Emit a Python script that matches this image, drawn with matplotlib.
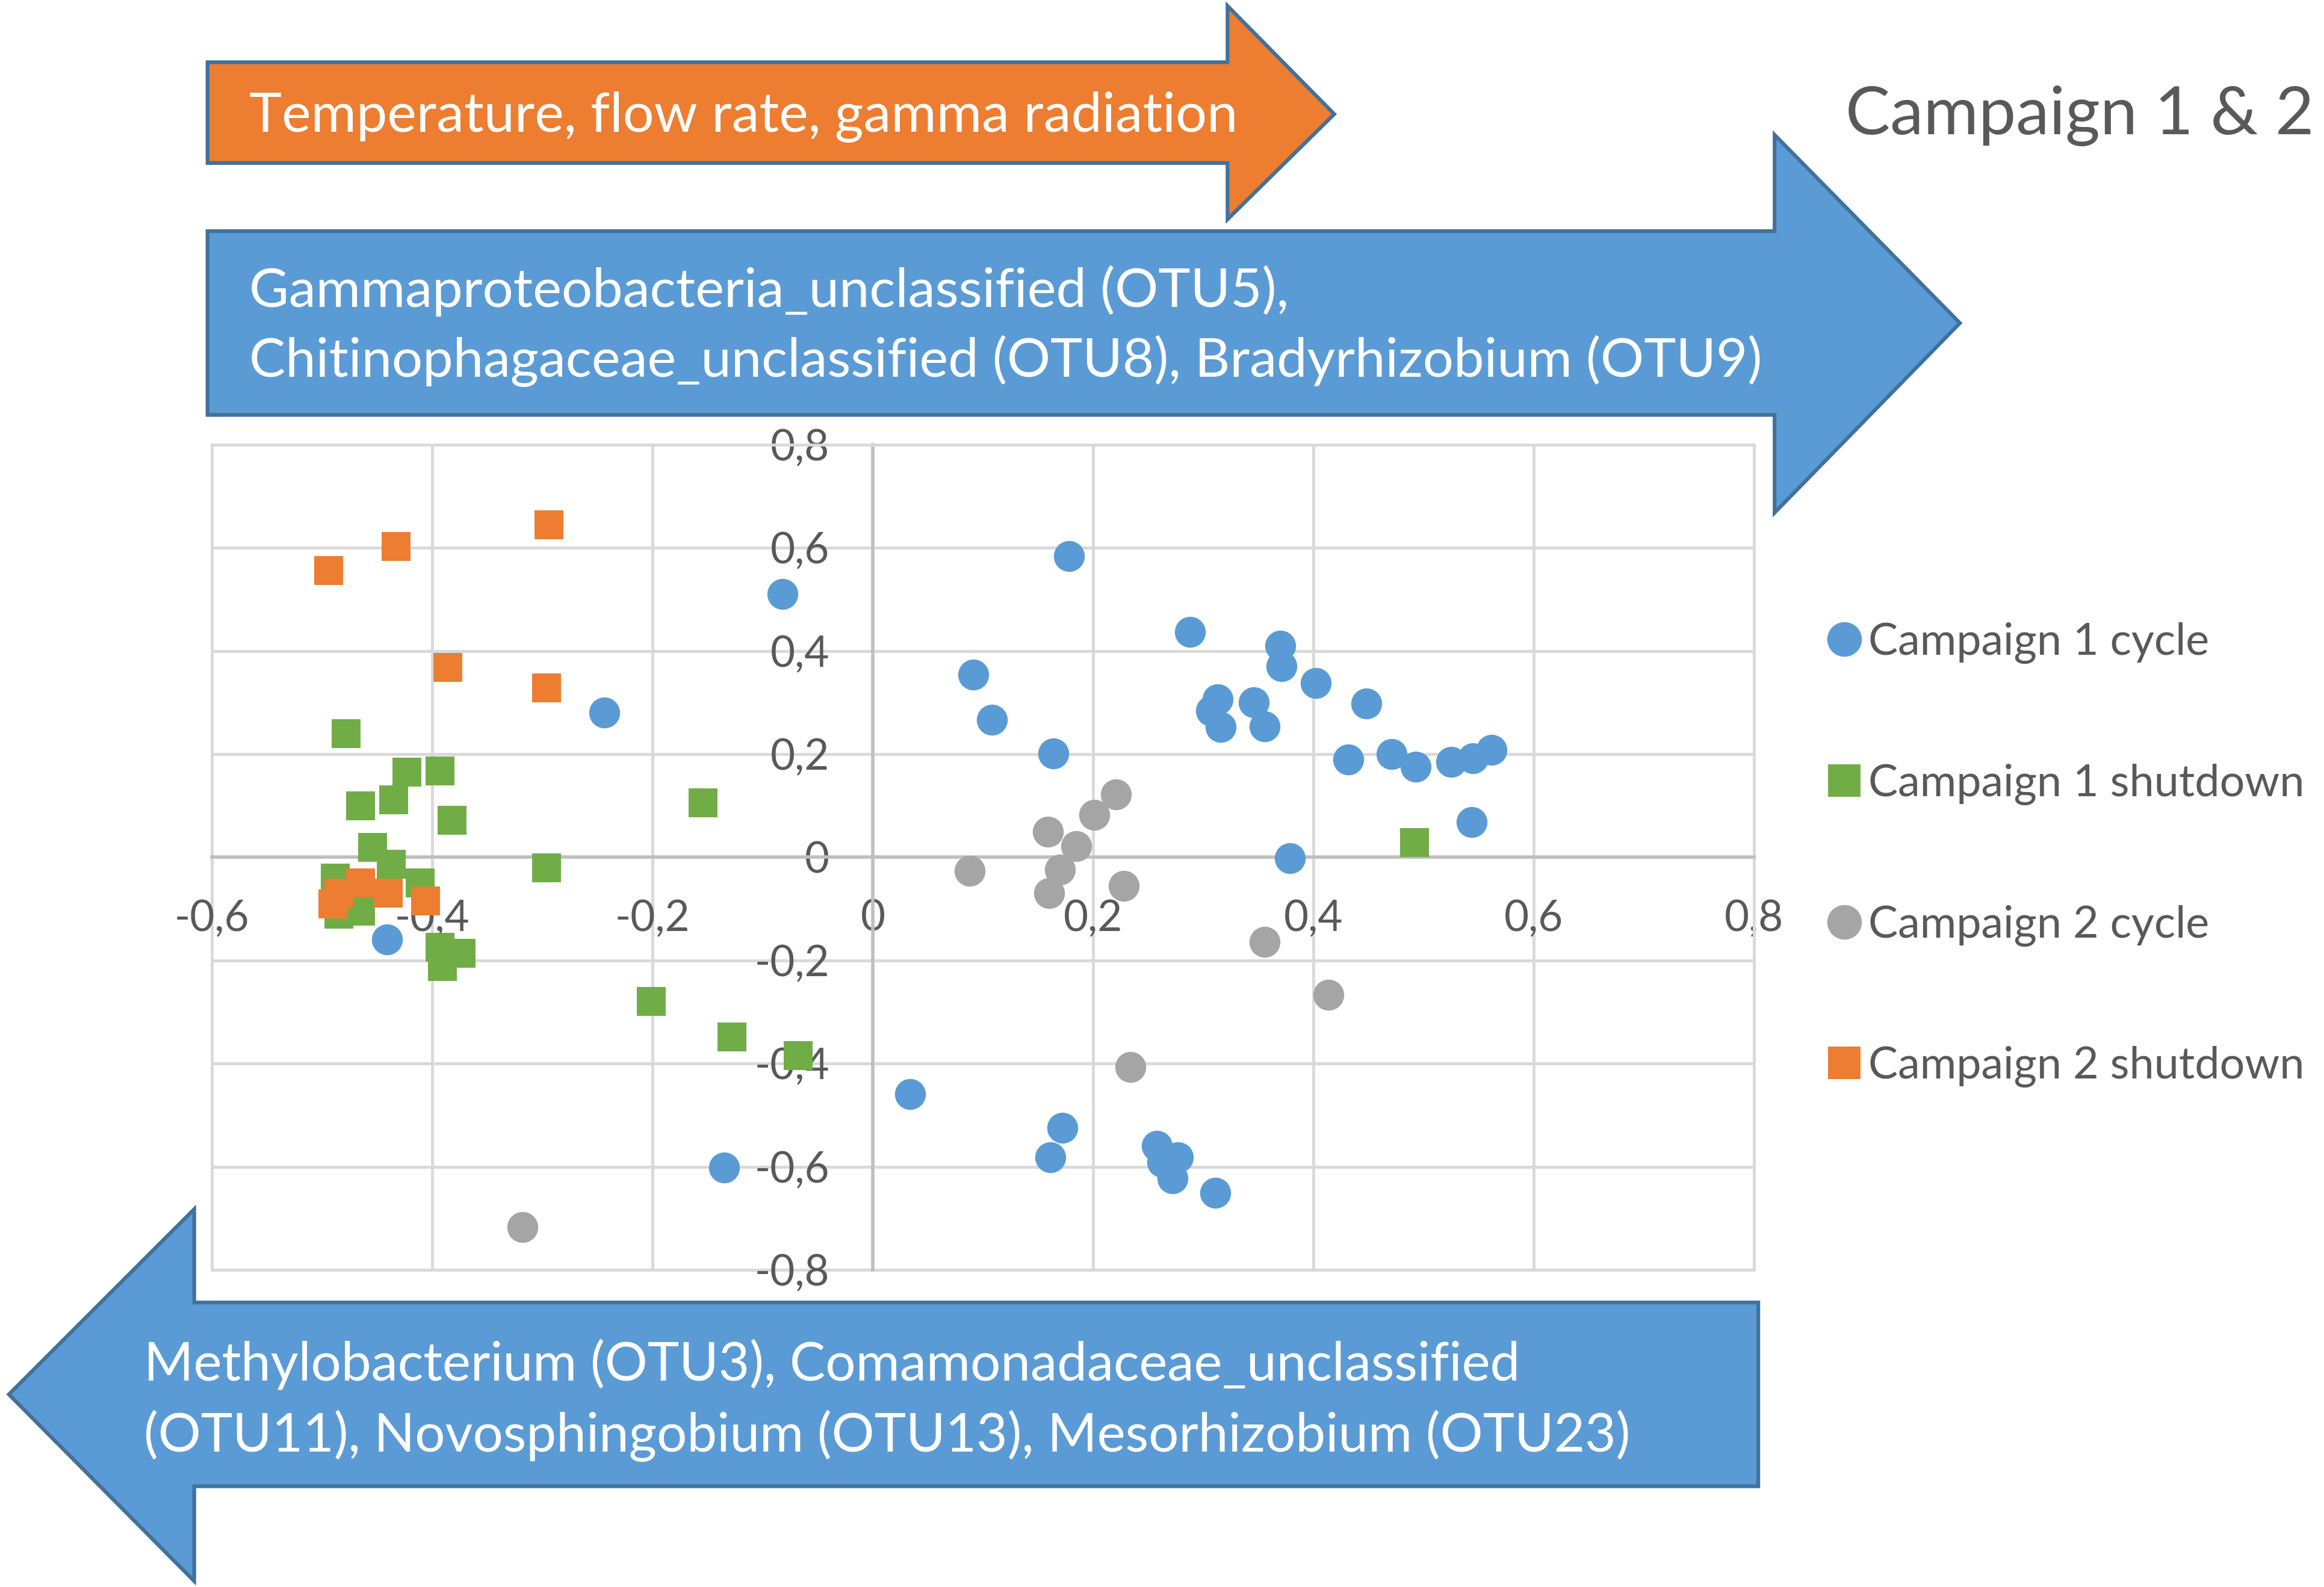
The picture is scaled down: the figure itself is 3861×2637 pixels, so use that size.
import matplotlib
matplotlib.use('Agg')
import matplotlib.pyplot as plt
from matplotlib.patches import Polygon

plt.rcParams['font.family'] = ['Lato', 'DejaVu Sans']

# series
c1_cycle_x = [-0.082, -0.244, -0.441, -0.135, 0.178, 0.288, 0.370, 0.371, 0.402, 0.448,
              0.091, 0.108, 0.313, 0.307, 0.316, 0.346, 0.356, 0.164, 0.432, 0.471,
              0.493, 0.525, 0.545, 0.562, 0.544, 0.379, 0.034, 0.172, 0.161, 0.258,
              0.277, 0.263, 0.272, 0.311]
c1_cycle_y = [0.510, 0.280, -0.159, -0.601, 0.584, 0.437, 0.410, 0.370, 0.338, 0.298,
              0.354, 0.266, 0.306, 0.284, 0.252, 0.300, 0.254, 0.201, 0.190, 0.200,
              0.176, 0.185, 0.192, 0.208, 0.068, -0.002, -0.459, -0.524, -0.582, -0.560,
              -0.582, -0.591, -0.623, -0.650]

c1_shut_x = [-0.478, -0.423, -0.393, -0.465, -0.435, -0.382, -0.154, -0.454, -0.437, -0.296,
             -0.488, -0.411, -0.485, -0.465, -0.393, -0.374, -0.391, -0.201, -0.128, -0.068,
             0.492]
c1_shut_y = [0.240, 0.165, 0.167, 0.100, 0.111, 0.072, 0.106, 0.019, -0.013, -0.020,
             -0.040, -0.050, -0.110, -0.105, -0.175, -0.186, -0.212, -0.280, -0.348, -0.385,
             0.028]

c2_cycle_x = [-0.318, 0.221, 0.201, 0.159, 0.185, 0.088, 0.170, 0.160, 0.228, 0.356, 0.414, 0.234]
c2_cycle_y = [-0.717, 0.122, 0.082, 0.050, 0.022, -0.026, -0.024, -0.070, -0.055, -0.164, -0.267, -0.407]

c2_shut_x = [-0.494, -0.433, -0.294, -0.386, -0.296, -0.490, -0.485, -0.465, -0.440, -0.406]
c2_shut_y = [0.556, 0.603, 0.645, 0.368, 0.328, -0.090, -0.070, -0.050, -0.070, -0.085]

series_names = ['Campaign 1 cycle', 'Campaign 1 shutdown', 'Campaign 2 cycle', 'Campaign 2 shutdown']
x_ticks = [-0.6, -0.4, -0.2, 0, 0.2, 0.4, 0.6, 0.8]
y_ticks = [-0.8, -0.6, -0.4, -0.2, 0, 0.2, 0.4, 0.6, 0.8]

top_orange_text = 'Temperature, flow rate, gamma radiation'
top_blue_text = 'Gammaproteobacteria_unclassified (OTU5),\nChitinophagaceae_unclassified (OTU8), Bradyrhizobium (OTU9)'
bottom_blue_text = 'Methylobacterium (OTU3), Comamonadaceae_unclassified\n(OTU11), Novosphingobium (OTU13), Mesorhizobium (OTU23)'
title_text = 'Campaign 1 & 2'

BLUE = '#5B9BD5'
GREEN = '#70AD47'
GRAY = '#A5A5A5'
ORANGE = '#ED7D31'
EDGE = '#41719C'
TXT = '#595959'
GRID = '#D9D9D9'

fig = plt.figure(figsize=(38.62, 26.37), dpi=100)

# background layer for the arrows, in pixel-like coords of a 1568x1071 canvas
bg = fig.add_axes([0, 0, 1, 1], zorder=0)
bg.set_xlim(0, 1568)
bg.set_ylim(1071, 0)
bg.axis('off')

orange_arrow = [(140, 42), (828, 42), (828, 4), (900, 77), (828, 148), (828, 110), (140, 110)]
blue_top_arrow = [(140, 156), (1197, 156), (1197, 91), (1322, 218), (1197, 346), (1197, 280), (140, 280)]
blue_bottom_arrow = [(1186, 879), (131, 879), (131, 816), (6, 941), (131, 1067), (131, 1003), (1186, 1003)]

bg.add_patch(Polygon(orange_arrow, closed=True, facecolor=ORANGE, edgecolor=EDGE, lw=4.5))
bg.add_patch(Polygon(blue_top_arrow, closed=True, facecolor=BLUE, edgecolor=EDGE, lw=4.5))
bg.add_patch(Polygon(blue_bottom_arrow, closed=True, facecolor=BLUE, edgecolor=EDGE, lw=4.5))

bg.text(168, 79, top_orange_text, color='white', fontsize=66, ha='left', va='center')
bg.text(168, 220, top_blue_text, color='white', fontsize=65, ha='left', va='center', linespacing=1.45)
bg.text(97, 945, bottom_blue_text, color='white', fontsize=64, ha='left', va='center', linespacing=1.47)
bg.text(1245, 78, title_text, color=TXT, fontsize=80, ha='left', va='center')

# scatter chart
ax = fig.add_axes([143 / 1568, 1 - 857 / 1071, 1040 / 1568, 557 / 1071], zorder=1)
ax.set_xlim(-0.6, 0.8)
ax.set_ylim(-0.8, 0.8)
ax.set_xticks(x_ticks)
ax.set_yticks(y_ticks)
fmt = lambda v: ('%g' % v).replace('.', ',')
ax.set_xticklabels([fmt(v) for v in x_ticks])
ax.set_yticklabels([fmt(v) for v in y_ticks])

ax.grid(True, color=GRID, lw=3.5, zorder=0)
ax.set_axisbelow(True)
for side in ['top', 'right']:
    ax.spines[side].set_color(GRID)
    ax.spines[side].set_linewidth(3.5)
ax.spines['left'].set_position(('data', 0))
ax.spines['bottom'].set_position(('data', 0))
ax.spines['left'].set_color('#BFBFBF')
ax.spines['bottom'].set_color('#BFBFBF')
ax.spines['left'].set_linewidth(4)
ax.spines['bottom'].set_linewidth(4)
ax.axvline(-0.6, color=GRID, lw=3.5, clip_on=False, zorder=0)
ax.axhline(-0.8, color=GRID, lw=3.5, clip_on=False, zorder=0)

ax.tick_params(axis='both', length=0, labelsize=51, labelcolor=TXT)
ax.tick_params(axis='y', pad=52)
ax.tick_params(axis='x', pad=50)

ms = 37
ax.plot(c1_cycle_x, c1_cycle_y, 'o', ms=ms, color=BLUE, mew=0, label=series_names[0], zorder=3)
ax.plot(c1_shut_x, c1_shut_y, 's', ms=ms * 0.95, color=GREEN, mew=0, label=series_names[1], zorder=3)
ax.plot(c2_cycle_x, c2_cycle_y, 'o', ms=ms, color=GRAY, mew=0, label=series_names[2], zorder=3)
ax.plot(c2_shut_x, c2_shut_y, 's', ms=ms * 0.95, color=ORANGE, mew=0, label=series_names[3], zorder=3)

leg = ax.legend(loc='center left', bbox_to_anchor=(1235 / 1568, 1 - 577 / 1071),
                bbox_transform=fig.transFigure, frameon=False, fontsize=53,
                labelspacing=2.25, handlelength=0.6, handletextpad=0.25,
                markerscale=1.12, borderpad=0, borderaxespad=0)
for t in leg.get_texts():
    t.set_color(TXT)

fig.savefig('out.png', dpi=100)
